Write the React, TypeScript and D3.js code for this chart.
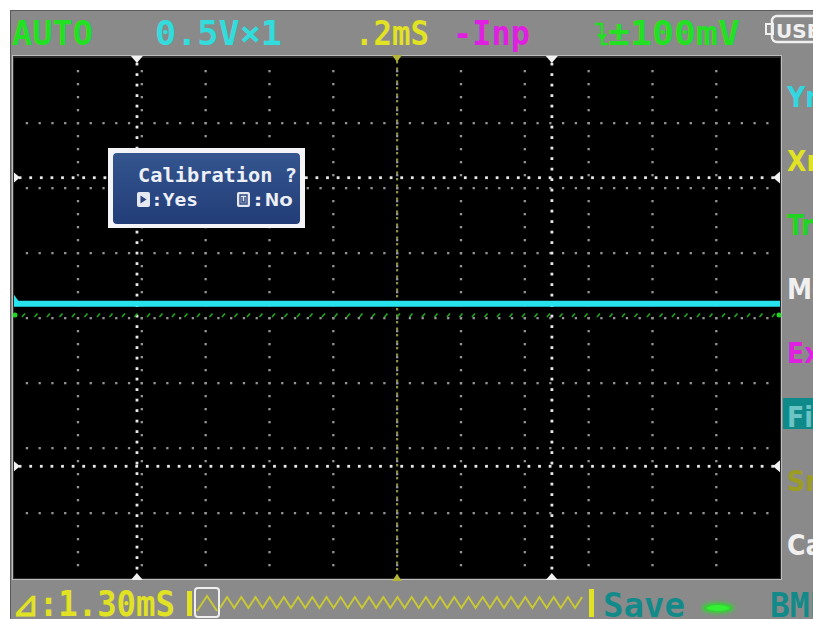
import React from "react";
import * as d3 from "d3";

const W = 813;
const H = 619;

// ---- data ----
const timeDomain = [0, 2.4]; // ms, 0.2 ms / div, 12 divisions
const voltDomain = [-2, 2]; // V, 0.5 V / div, 8 divisions
const sampleTimes = [0, 0.2, 0.4, 0.6, 0.8, 1.0, 1.2, 1.4, 1.6, 1.8, 2.0, 2.2, 2.4];
const chAVolts = [0.11, 0.11, 0.11, 0.11, 0.11, 0.11, 0.11, 0.11, 0.11, 0.11, 0.11, 0.11, 0.11];
const chBLevel = 0.023;
const cursorTimes = [0.385, 1.685];
const cursorVolts = [1.08, -1.14];
const triggerTime = 1.2;

const statusMode = "AUTO";
const statusVdiv = "0.5V×1";
const statusTdiv = ".2mS";
const statusInput = "-Inp";
const statusTrig = "±100mV";
const statusUsb = "USB";
const deltaText = "⊿:1.30mS";
const saveText = "Save";
const fileText = "BMP";
const menuItems = ["Yn", "Xn", "Tr", "Me", "Ex", "Fi", "Sn", "Ca"];
const dialogTitle = "Calibration ?";
const dialogYes = ":Yes";
const dialogNo = ":No";

const MONO = "'DejaVu Sans Mono', monospace";

export default function App() {
  const L = 14, R = 780, T = 58, B = 578;
  const x = d3.scaleLinear().domain(timeDomain).range([L, R]);
  const y = d3.scaleLinear().domain(voltDomain).range([B, T]);
  const xTicks = x.ticks(12).slice(1, -1);
  const yTicks = y.ticks(8).slice(1, -1);
  const dxDot = (x(0.2) - x(0)) / 5;
  const dyDot = (y(-2) - y(-1.5)) / 5;

  const vDots: [number, number][] = [];
  xTicks.forEach((t) => {
    d3.range(T + dyDot, B - 2, dyDot).forEach((yy) => vDots.push([x(t), yy]));
  });
  const hDots: [number, number][] = [];
  yTicks.forEach((v) => {
    d3.range(L + dxDot, R - 2, dxDot).forEach((xx) => hDots.push([xx, y(v)]));
  });
  const cursorVDots: [number, number][] = [];
  cursorTimes.forEach((t) => {
    d3.range(T + 6, B - 3, 10.5).forEach((yy) => cursorVDots.push([x(t), yy]));
  });
  const cursorHDots: [number, number][] = [];
  cursorVolts.forEach((v) => {
    d3.range(L + 6, R - 3, 10.6).forEach((xx) => cursorHDots.push([xx, y(v)]));
  });
  const trigDots = d3.range(T + 4, B - 2, 6.5);
  const chBDashes = d3.range(L + 8, R - 4, 12.5);

  const line = d3
    .line<number>()
    .x((_, i) => x(sampleTimes[i]))
    .y((d) => y(d));

  // decorative zig-zag memory bar
  const zz: [number, number][] = d3.range(0, 54).map((i) => [220 + i * 7.1, i % 2 === 0 ? 608 : 597]);
  const zzPath = d3.line()(zz.filter((p) => p[0] <= 588)) || "";

  const menuY = [96, 160, 224, 288, 352, 416, 480, 544];
  const menuColors = ["#33d6e0", "#e2e224", "#22d422", "#f0f0f0", "#e020e0", "#6cc4c4", "#9c9c22", "#f0f0f0"];

  return (
    <svg
      width={W}
      height={H}
      style={{ position: "fixed", left: 0, top: 0, display: "block" }}
      viewBox={`0 0 ${W} ${H}`}
    >
      <defs>
        <linearGradient id="dlg" x1="0" y1="0" x2="0" y2="1">
          <stop offset="0" stopColor="#34558f" />
          <stop offset="1" stopColor="#223d78" />
        </linearGradient>
        <filter id="glow" x="-50%" y="-100%" width="200%" height="300%">
          <feGaussianBlur stdDeviation="2" />
        </filter>
      </defs>
      <rect x={0} y={0} width={W} height={H} fill="#ffffff" />
      <rect x={10} y={10} width={W - 10} height={H - 10} fill="#8a8a8a" />
      <line x1={10} y1={10.5} x2={W} y2={10.5} stroke="#5a5a5a" strokeWidth={1} />
      <line x1={10.5} y1={10} x2={10.5} y2={H} stroke="#5a5a5a" strokeWidth={1} />

      {/* plot frame */}
      <rect x={L - 2} y={T - 3} width={R - L + 4} height={B - T + 5} fill="#bdbdbd" />
      <rect x={L - 1} y={T - 2} width={R - L + 2} height={B - T + 3} fill="#2a2a2a" />
      <rect x={L} y={T} width={R - L} height={B - T} fill="#000000" />

      {/* grid */}
      {vDots.map(([a, b], i) => (
        <rect key={"v" + i} x={a - 1} y={b - 1} width={2.3} height={2.3} fill="#949494" />
      ))}
      {hDots.map(([a, b], i) => (
        <rect key={"h" + i} x={a - 1} y={b - 1} width={2.3} height={2.3} fill="#949494" />
      ))}
      {trigDots.map((yy, i) => (
        <rect key={"t" + i} x={x(triggerTime) - 1} y={yy - 1} width={2.2} height={2.4} fill="#8f8f45" />
      ))}
      {cursorVDots.map(([a, b], i) => (
        <rect key={"cv" + i} x={a - 1.3} y={b - 1.3} width={2.8} height={2.8} fill="#e8e8e8" />
      ))}
      {cursorHDots.map(([a, b], i) => (
        <rect key={"ch" + i} x={a - 1.3} y={b - 1.3} width={2.8} height={2.8} fill="#e8e8e8" />
      ))}

      {/* channel B dotted trace */}
      {chBDashes.map((xx, i) => (
        <line key={"b" + i} x1={xx} y1={y(chBLevel) + 2} x2={xx + 3} y2={y(chBLevel) - 1.5} stroke="#22a822" strokeWidth={1.6} />
      ))}

      {/* channel A trace */}
      <path d={line(chAVolts) || ""} fill="none" stroke="#27e3ee" strokeWidth={6} />
      <polygon points={`${L},${y(chAVolts[0]) - 9} ${L + 5},${y(chAVolts[0]) - 2} ${L},${y(chAVolts[0]) + 2}`} fill="#27e3ee" />
      <circle cx={L + 1} cy={y(chBLevel)} r={2.5} fill="#22d422" />
      <circle cx={R - 1} cy={y(chBLevel)} r={2.5} fill="#22d422" />

      {/* cursor markers */}
      {cursorTimes.map((t, i) => (
        <g key={"mt" + i} fill="#f2f2f2">
          <polygon points={`${x(t) - 6},${T - 2} ${x(t) + 6},${T - 2} ${x(t)},${T + 5}`} />
          <polygon points={`${x(t) - 6},${B + 2} ${x(t) + 6},${B + 2} ${x(t)},${B - 5}`} />
        </g>
      ))}
      {cursorVolts.map((v, i) => (
        <g key={"mv" + i} fill="#f2f2f2">
          <polygon points={`${L},${y(v) - 5} ${L + 6},${y(v)} ${L},${y(v) + 5}`} />
          <polygon points={`${R},${y(v) - 6} ${R - 7},${y(v)} ${R},${y(v) + 6}`} />
        </g>
      ))}
      <polygon points={`${x(triggerTime) - 5},${T - 3} ${x(triggerTime) + 5},${T - 3} ${x(triggerTime)},${T + 4}`} fill="#b4b436" />
      <polygon points={`${x(triggerTime) - 5},${B + 3} ${x(triggerTime) + 5},${B + 3} ${x(triggerTime)},${B - 4}`} fill="#b4b436" />

      {/* calibration dialog */}
      <rect x={108} y={148} width={197} height={80} fill="#f4f4f6" />
      <rect x={113} y={153} width={187} height={71} rx={4} fill="url(#dlg)" />
      <text x={217.5} y={182} textAnchor="middle" fontFamily={MONO} fontWeight="bold" fontSize={19} fill="#eef0f8" textLength={159} lengthAdjust="spacingAndGlyphs">
        {dialogTitle}
      </text>
      <rect x={137} y={192} width={13} height={15} rx={2} fill="#e6e8f0" />
      <path d="M140.5,195.5 L146.5,199.5 L140.5,203.5 Z" fill="#2a4580" />
      <text x={151} y={206} fontFamily={MONO} fontWeight="bold" fontSize={18} fill="#eef0f8" textLength={47} lengthAdjust="spacingAndGlyphs">
        {dialogYes}
      </text>
      <rect x={237} y={192} width={13} height={15} rx={2} fill="#e6e8f0" />
      <path d="M240,195 H247 V204 H240 Z M242,197 V202 H245 V197" fill="none" stroke="#2a4580" strokeWidth={1.4} />
      <text x={251} y={206} fontFamily={MONO} fontWeight="bold" fontSize={18} fill="#eef0f8" textLength={42} lengthAdjust="spacingAndGlyphs">
        {dialogNo}
      </text>

      {/* top status bar */}
      <g fontFamily={MONO} fontWeight="bold" fontSize={34}>
        <text x={12} y={45} fill="#22e022" textLength={81} lengthAdjust="spacingAndGlyphs">{statusMode}</text>
        <text x={155} y={45} fill="#33dcdc" textLength={127} lengthAdjust="spacingAndGlyphs">{statusVdiv}</text>
        <text x={355} y={45} fill="#e2e224" textLength={74} lengthAdjust="spacingAndGlyphs">{statusTdiv}</text>
        <text x={453} y={45} fill="#e020e0" textLength={77} lengthAdjust="spacingAndGlyphs">{statusInput}</text>
        <text x={608} y={45} fill="#22e022" textLength={132} lengthAdjust="spacingAndGlyphs">{statusTrig}</text>
      </g>
      <path d="M595,24 H602 V44 H608 M598,34 L602,39 L606,34" fill="none" stroke="#22e022" strokeWidth={2.5} />
      <rect x={766} y={24} width={7} height={10} fill="none" stroke="#f0f0f0" strokeWidth={2} />
      <rect x={772} y={16} width={60} height={26} rx={5} fill="none" stroke="#f0f0f0" strokeWidth={2.5} />
      <text x={776} y={38} fontFamily="'DejaVu Sans', sans-serif" fontWeight="bold" fontSize={20} fill="#f0f0f0">{statusUsb}</text>

      {/* right menu */}
      <rect x={783} y={398} width={30} height={31} fill="#0f8a8a" />
      {menuItems.map((m, i) => (
        <text key={m} x={787} y={menuY[i] + 11} fontFamily="'DejaVu Sans Condensed', 'DejaVu Sans', sans-serif" fontStretch="condensed" fontWeight="bold" fontSize={28} fill={menuColors[i]}>
          {m}
        </text>
      ))}

      {/* bottom bar */}
      <text x={12} y={616} fontFamily={MONO} fontWeight="bold" fontSize={35} fill="#e2e224" textLength={163} lengthAdjust="spacingAndGlyphs">
        {deltaText}
      </text>
      <rect x={187} y={591} width={5} height={25} fill="#e2e224" />
      <rect x={195} y={588} width={24} height={29} rx={3} fill="none" stroke="#efefef" strokeWidth={2} />
      <path d="M197,611 L207,596 L217,611" fill="none" stroke="#c9c933" strokeWidth={2} />
      <path d={zzPath} fill="none" stroke="#c9c933" strokeWidth={2} />
      <rect x={589} y={589} width={5} height={28} fill="#e2e224" />
      <text x={603} y={617} fontFamily={MONO} fontWeight="bold" fontSize={33} fill="#128a8a" textLength={82} lengthAdjust="spacingAndGlyphs">
        {saveText}
      </text>
      <ellipse cx={718} cy={608} rx={16} ry={5} fill="#22e022" filter="url(#glow)" />
      <ellipse cx={718} cy={608} rx={11} ry={3} fill="#33f033" />
      <text x={770} y={617} fontFamily={MONO} fontWeight="bold" fontSize={33} fill="#128a8a">
        {fileText}
      </text>
    </svg>
  );
}
